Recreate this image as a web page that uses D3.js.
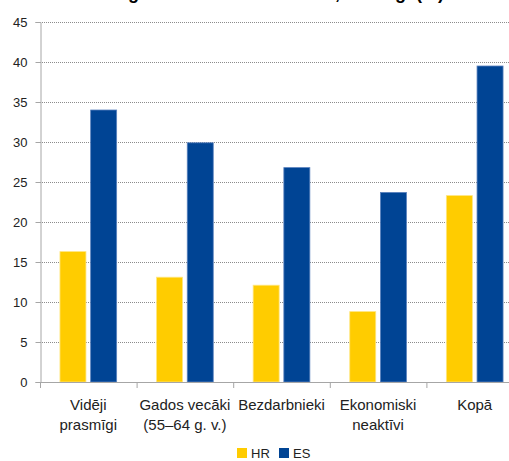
<!DOCTYPE html>
<html><head><meta charset="utf-8">
<script src="https://cdn.jsdelivr.net/npm/d3@7/dist/d3.min.js"></script>
<style>body{margin:0;background:#fff}svg{display:block}text{font-family:"Liberation Sans",Arial,sans-serif}</style>
</head><body><svg id="c" width="509" height="461"></svg>
<script>
const categories = [["Vidēji","prasmīgi"],["Gados vecāki","(55–64 g. v.)"],["Bezdarbnieki"],["Ekonomiski","neaktīvi"],["Kopā"]];
const seriesNames = ["HR","ES"];
const hrValues = [16.3, 13.1, 12.1, 8.8, 23.3];
const esValues = [34.0, 29.9, 26.8, 23.7, 39.5];
const yTicks = [0,5,10,15,20,25,30,35,40,45];
const colors = {HR:"#FFCC00", ES:"#004494"};
const strokes = {HR:"#FFE680", ES:"#5A82BE"};
const title = "Pieaugušo līdzdalība mācībās, 2016. g. (%)";

const svg = d3.select("#c");
const x0 = d3.scaleBand().domain(d3.range(categories.length)).range([40, 523]).paddingInner(0).paddingOuter(0);
const x1 = d3.scaleBand().domain(seriesNames).range([0, x0.bandwidth()]).paddingInner(0.153).paddingOuter(0.65);
const y = d3.scaleLinear().domain([0,45]).range([382,22]);

svg.append("text").attr("x",262).attr("y",-1).attr("text-anchor","middle")
  .attr("font-weight","bold").attr("font-size",18).text(title);

// grid
svg.append("g").selectAll("line").data(yTicks.filter(d=>d>0)).join("line")
  .attr("x1",40).attr("x2",523).attr("y1",d=>y(d)+0.5).attr("y2",d=>y(d)+0.5)
  .attr("stroke","#8c8c8c").attr("stroke-dasharray","1,1").attr("stroke-width",1);

// bars
const data = categories.map((c,i)=>({i, HR:hrValues[i], ES:esValues[i]}));
const g = svg.append("g");
seriesNames.forEach(s=>{
  g.selectAll("rect."+s).data(data).join("rect").attr("class",s)
    .attr("x",d=>x0(d.i)+x1(s)).attr("width",x1.bandwidth())
    .attr("y",d=>y(d[s])).attr("height",d=>y(0)-y(d[s]))
    .attr("fill",colors[s]).attr("stroke",strokes[s]).attr("stroke-width",0.8);
});

// y axis
const ya = d3.axisLeft(y).tickValues(yTicks).tickSize(5).tickPadding(8);
const yg = svg.append("g").attr("transform","translate(40.5,0)").call(ya);
yg.select(".domain").attr("stroke","#a6a6a6");
yg.selectAll(".tick line").attr("stroke","#a6a6a6");
yg.selectAll("text").attr("font-size",13).attr("fill","#222").style("font-family","Liberation Sans, Arial, sans-serif");

// x axis
const xg = svg.append("g");
xg.append("line").attr("x1",40).attr("x2",523).attr("y1",382.5).attr("y2",382.5).attr("stroke","#a6a6a6");
xg.selectAll("line.t").data(d3.range(categories.length+1)).join("line").attr("class","t")
  .attr("x1",d=>40+d*x0.bandwidth()+0.5).attr("x2",d=>40+d*x0.bandwidth()+0.5)
  .attr("y1",382).attr("y2",388).attr("stroke","#a6a6a6");
categories.forEach((lines,i)=>{
  const t = xg.append("text").attr("x",x0(i)+x0.bandwidth()/2).attr("y",410)
    .attr("text-anchor","middle").attr("font-size",15).attr("fill","#222");
  lines.forEach((l,j)=>t.append("tspan").attr("x",x0(i)+x0.bandwidth()/2).attr("dy",j?20:0).text(l));
});

// legend
const leg = svg.append("g");
const legX = {HR:237, ES:279};
seriesNames.forEach(s=>{
  leg.append("rect").attr("x",legX[s]).attr("y",448).attr("width",10).attr("height",10).attr("fill",colors[s]);
  leg.append("text").attr("x",legX[s]+14).attr("y",457.5).attr("font-size",13).attr("fill","#222").text(s);
});
</script></body></html>
